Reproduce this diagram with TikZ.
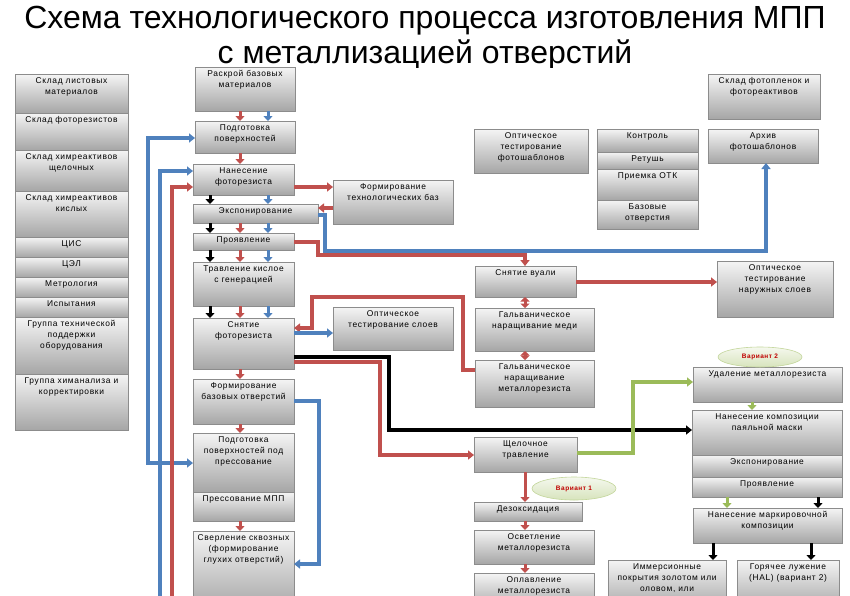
\documentclass[tikz,border=0pt]{standalone}
\usepackage{fontspec}
\setmainfont{Liberation Sans}
\newfontfamily\boxfont[LetterSpace=8]{Liberation Sans}
\usetikzlibrary{arrows.meta,shadows,shapes.geometric,calc}
\definecolor{cblue}{HTML}{4F81BD}
\definecolor{cred}{HTML}{C0504D}
\definecolor{cgreen}{HTML}{9BBB59}
\definecolor{bdr}{HTML}{8C8C8C}
\definecolor{vtxt}{HTML}{C00000}
\tikzset{
  box/.style={draw=bdr, line width=0.7pt, top color=white!96!black, bottom color=black!35, inner sep=0pt, outer sep=0pt,
    drop shadow={shadow xshift=1.2pt, shadow yshift=-1.2pt, opacity=0.3}},
  btxt/.style={font=\boxfont\fontsize{8.4}{11}\selectfont, align=center, inner sep=0pt, anchor=north},
  tip/.style={-{Triangle[length=6pt,width=9pt]}},
  rl/.style={draw=cred, line width=3.6pt},
  bl/.style={draw=cblue, line width=3.6pt},
  gl/.style={draw=cgreen, line width=3.6pt},
  kl/.style={draw=black, line width=3.6pt},
  stub/.style={line width=3pt, -{Triangle[length=5pt,width=9pt]}},
  vari/.style={ellipse, draw=cgreen!60, line width=0.6pt, top color=cgreen!10, bottom color=cgreen!40, inner sep=0pt,
    font=\boxfont\fontsize{6.5}{7}\selectfont\bfseries, text=vtxt}
}
\newcommand{\bx}[6]{%
  \node[box, anchor=north west, minimum width={(#4-#2)*1pt}, minimum height={(#5-#3)*1pt}] (#1) at (#2,#3) {};
  \node[btxt] (#1t) at ([yshift=-3.2pt]#1.north) {#6};}
\begin{document}
\begin{tikzpicture}[x=1pt,y=-1pt]
\clip (0,0) rectangle (850,595);
\fill[white] (0,0) rectangle (850,595);
% title
\begin{scope}
\clip (0,0) rectangle (850,67);
\node[anchor=north, align=center, inner sep=0pt, font=\fontsize{32}{35}\selectfont] (title) at (425,6)
  {Схема технологического процесса изготовления МПП\\с металлизацией отверстий};
\end{scope}
% left column
\bx{s1}{15}{74}{128}{113}{Склад листовых\\материалов}
\bx{s2}{15}{113}{128}{150}{Склад фоторезистов}
\bx{s3}{15}{150}{128}{191}{Склад химреактивов\\щелочных}
\bx{s4}{15}{191}{128}{237}{Склад химреактивов\\кислых}
\bx{s5}{15}{237}{128}{257}{ЦИС}
\bx{s6}{15}{257}{128}{277}{ЦЭЛ}
\bx{s7}{15}{277}{128}{297}{Метрология}
\bx{s8}{15}{297}{128}{317}{Испытания}
\bx{s9}{15}{317}{128}{374}{Группа технической\\поддержки\\оборудования}
\bx{s10}{15}{374}{128}{430}{Группа химанализа и\\корректировки}
% middle column
\bx{raskroy}{195}{67}{295}{111}{Раскрой базовых\\материалов}
\bx{podg}{195}{121}{295}{153}{Подготовка\\поверхностей}
\bx{nanes}{193}{164}{294}{195}{Нанесение\\фоторезиста}
\bx{exp}{193}{204}{318}{223}{Экспонирование}
\bx{prov}{193}{233}{294}{250}{Проявление}
\bx{trav}{193}{262}{294}{306}{Травление кислое\\с генерацией}
\bx{snyat}{193}{318}{294}{369}{Снятие\\фоторезиста}
\bx{form}{193}{379}{294}{424}{Формирование\\базовых отверстий}
\bx{podpr}{193}{433}{294}{492}{Подготовка\\поверхностей под\\прессование}
\bx{press}{193}{492}{294}{521}{Прессование МПП}
\bx{sverl}{193}{531}{294}{610}{Сверление сквозных\\(формирование\\глухих отверстий)}
% other boxes
\bx{ftb}{333}{180}{453}{224}{Формирование\\технологических баз}
\bx{ots}{333}{307}{453}{350}{Оптическое\\тестирование слоев}
\bx{otf}{474}{129}{588}{173}{Оптическое\\тестирование\\фотошаблонов}
\bx{ctrl}{597}{129}{698}{152}{Контроль}
\bx{ret}{597}{152}{698}{169}{Ретушь}
\bx{otk}{597}{169}{698}{200}{Приемка ОТК}
\bx{bazo}{597}{200}{698}{229}{Базовые\\отверстия}
\bx{sklf}{708}{74}{820}{119}{Склад фотопленок и\\фотореактивов}
\bx{arh}{708}{129}{818}{163}{Архив\\фотошаблонов}
\bx{vual}{475}{266}{576}{297}{Снятие вуали}
\bx{otn}{717}{261}{833}{317}{Оптическое\\тестирование\\наружных слоев}
\bx{gmed}{475}{308}{594}{351}{Гальваническое\\наращивание меди}
\bx{gmet}{475}{360}{594}{407}{Гальваническое\\наращивание\\металлорезиста}
\bx{shch}{474}{437}{577}{472}{Щелочное\\травление}
\bx{dezo}{474}{502}{582}{521}{Дезоксидация}
\bx{osv}{474}{530}{594}{564}{Осветление\\металлорезиста}
\bx{opl}{474}{573}{594}{610}{Оплавление\\металлорезиста}
\bx{udal}{693}{367}{842}{402}{Удаление металлорезиста}
\bx{npm}{692}{410}{842}{455}{Нанесение композиции\\паяльной маски}
\bx{exp2}{692}{455}{842}{477}{Экспонирование}
\bx{prov2}{692}{477}{842}{497}{Проявление}
\bx{nmk}{693}{508}{842}{543}{Нанесение маркировочной\\композиции}
\bx{imm}{608}{560}{726}{610}{Иммерсионные\\покрытия золотом или\\оловом, или}
\bx{hal}{737}{560}{839}{610}{Горячее лужение\\(HAL) (вариант 2)}
\node[vari, minimum width=84pt, minimum height=23pt] (var1) at (574,488.5) {Вариант 1};
\node[vari, minimum width=84pt, minimum height=20pt] (var2) at (760,357) {Вариант 2};
% stub coordinates
\coordinate (xk) at (210,0);
\coordinate (xr) at (240,0);
\coordinate (xb) at (268,0);
\coordinate (xv) at (525,0);
\foreach \a/\b in {raskroy/podg,podg/nanes,exp/prov,prov/trav,trav/snyat,snyat/form,form/podpr,press/sverl}
  \draw[stub, draw=cred, fill=cred] (\a.south -| xr) -- (\b.north -| xr);
\foreach \a/\b in {raskroy/podg,nanes/exp,exp/prov,prov/trav,trav/snyat}
  \draw[stub, draw=cblue, fill=cblue] (\a.south -| xb) -- (\b.north -| xb);
\foreach \a/\b in {nanes/exp,exp/prov,prov/trav,trav/snyat}
  \draw[stub, draw=black, fill=black] (\a.south -| xk) -- (\b.north -| xk);
\foreach \a/\b in {shch/dezo,dezo/osv,osv/opl}
  \draw[stub, draw=cred, fill=cred] (\a.south -| xv) -- (\b.north -| xv);
\foreach \a/\b in {vual/gmed,gmed/gmet}
  \draw[line width=3pt, draw=cred, fill=cred, {Triangle[length=4.5pt,width=9pt]}-{Triangle[length=4.5pt,width=9pt]}] (\a.south -| xv) -- (\b.north -| xv);
\draw[stub, draw=cgreen, fill=cgreen] (udal.south -| 752,0) -- (npm.north -| 752,0);
\draw[stub, draw=cgreen, fill=cgreen] (prov2.south -| 727,0) -- (nmk.north -| 727,0);
\draw[stub, draw=black, fill=black] (prov2.south -| 818,0) -- (nmk.north -| 818,0);
\draw[stub, draw=black, fill=black] (nmk.south -| 713,0) -- (imm.north -| 713,0);
\draw[stub, draw=black, fill=black] (nmk.south -| 811,0) -- (hal.north -| 811,0);
% free ends at bottom
\coordinate (bEnd) at (160,600);
\coordinate (rEnd) at (172,600);
% long connectors
\draw[bl, {Triangle[length=6pt,width=9pt]}-{Triangle[length=6pt,width=9pt]}] (podpr.west |- 0,463) -- (148,463) -- (148,138) -- (podg.west |- 0,138);
\draw[bl, tip] (bEnd) |- (nanes.west |- 0,171);
\draw[rl, tip] (rEnd) |- (nanes.west |- 0,187);
\draw[rl, tip] (nanes.east |- 0,187) -- (ftb.west |- 0,187);
\draw[rl, tip] (ftb.west |- 0,208) -- (exp.east |- 0,208);
\draw[bl, tip] (exp.east |- 0,215) -- (325,215) -- (325,251) -- (766,251) -- (arh.south -| 766,0);
\draw[rl, tip] (prov.east |- 0,242) -- (318,242) -- (318,255) -- (525,255) -- (vual.north -| xv);
\draw[rl, tip] (vual.east |- 0,282) -- (otn.west |- 0,282);
\draw[rl, tip] (gmet.west |- 0,370) -- (463,370) -- (463,297) -- (312,297) -- (312,328) -- (snyat.east |- 0,328);
\draw[bl, tip] (snyat.east |- 0,333) -- (ots.west |- 0,333);
\draw[kl, tip] (snyat.east |- 0,357) -- (389,357) -- (389,430) -- (npm.west |- 0,430);
\draw[rl, tip] (snyat.east |- 0,362) -- (380,362) -- (380,455) -- (shch.west |- 0,455);
\draw[gl, tip] (shch.east |- 0,453) -- (633,453) -- (633,382) -- (udal.west |- 0,382);
\draw[bl, tip] (form.east |- 0,401) -- (319,401) -- (319,564) -- (sverl.east |- 0,564);
\end{tikzpicture}
\end{document}
